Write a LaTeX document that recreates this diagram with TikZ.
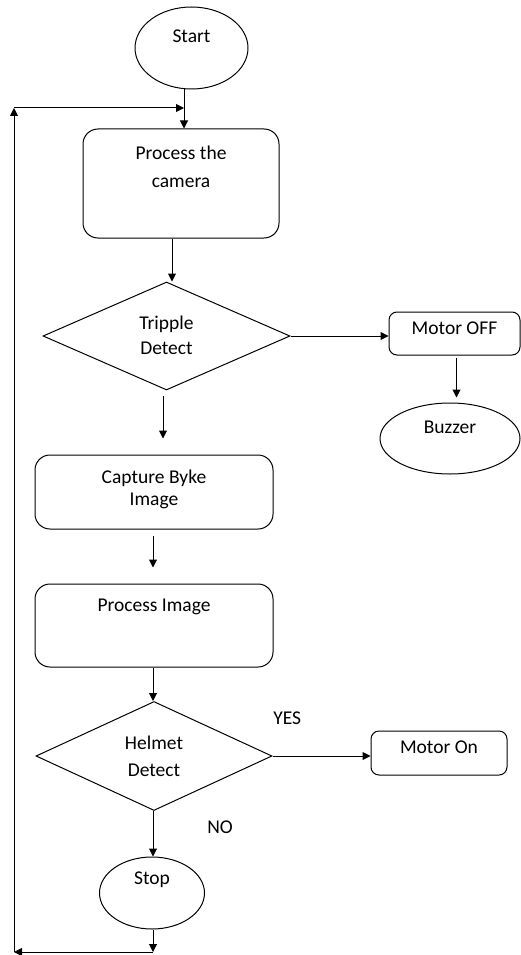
\documentclass[tikz,border=0pt]{standalone}
\usepackage{fontspec}
\setmainfont{Carlito}
\usetikzlibrary{shapes,arrows.meta}

\begin{document}
\begin{tikzpicture}[
	x = 1pt, y = -1pt,
	font = \fontsize{19.5}{25}\selectfont,
	line width = 1pt,
	> = {Triangle[length=8pt, width=8pt]},
	termnode/.style={ellipse, draw, inner sep=0pt},
	procnode/.style={rectangle, draw, rounded corners=15pt, inner sep=0pt},
	smallnode/.style={rectangle, draw, rounded corners=8pt, inner sep=0pt},
	decnode/.style={diamond, draw, inner sep=0pt},
	txt/.style={anchor=north, align=center, inner sep=0pt},
	]
	\useasboundingbox (0,0) rectangle (521,955);
	%Nodes
	\node[termnode, minimum width=113pt, minimum height=82pt, label={[txt, yshift=-23pt]north:Start}]                      (start)    at (191.5,48)    {};
	\node[procnode, minimum width=196pt, minimum height=109pt, label={[txt, yshift=-17pt]north:Process the\\[3pt]camera}]   (camera)   at (181,183.5)   {};
	\node[decnode, minimum width=247pt, minimum height=108pt, label={[txt, yshift=-34pt]north:Tripple\\Detect}]            (tripple)  at (166.5,336)   {};
	\node[smallnode, minimum width=131pt, minimum height=43pt, label={[txt, yshift=-10pt]north:Motor OFF}]                 (motoroff) at (454.5,333.5) {};
	\node[termnode, minimum width=140pt, minimum height=71pt, label={[txt, yshift=-18pt]north:Buzzer}]                     (buzzer)   at (450,438.5)   {};
	\node[procnode, minimum width=238pt, minimum height=74pt, label={[txt, yshift=-15pt]north:Capture Byke\\[-3pt]Image}]  (capture)  at (154,492)     {};
	\node[procnode, minimum width=238pt, minimum height=83pt, label={[txt, yshift=-15pt]north:Process Image}]              (procimg)  at (154,625.5)   {};
	\node[decnode, minimum width=236pt, minimum height=109pt, label={[txt, yshift=-34pt]north:Helmet\\[2pt]Detect}]        (helmet)   at (154,756)     {};
	\node[smallnode, minimum width=136pt, minimum height=44pt, label={[txt, yshift=-10pt]north:Motor On}]                  (motoron)  at (439,753)     {};
	\node[termnode, minimum width=105pt, minimum height=72pt, label={[txt, yshift=-15pt]north:Stop}]                       (stop)     at (152,893)     {};
	\coordinate (loopbot) at (14,952);
	\coordinate (looptop) at (14,108);
	
	%Lines
	\draw[->] ([xshift=-7.5pt]start.south) -- ([xshift=-7.5pt]start.south |- camera.north);
	\draw[->] ([xshift=-9pt]camera.south) -- ([xshift=-9pt]camera.south |- tripple.north);
	\draw[->] (tripple.east) -- (tripple.east -| motoroff.west);
	\draw[->, shorten <=2pt, shorten >=5pt] ([xshift=2pt]motoroff.south) -- ([xshift=2pt]motoroff.south |- buzzer.north);
	\draw[->, shorten <=5pt, shorten >=16pt] ([xshift=-3.5pt]tripple.south) -- ([xshift=-3.5pt]tripple.south |- capture.north);
	\draw[->, shorten <=6pt, shorten >=16pt] ([xshift=-1pt]capture.south) -- ([xshift=-1pt]capture.south |- procimg.north);
	\draw[->] ([xshift=-1pt]procimg.south) -- ([xshift=-1pt]procimg.south |- helmet.north);
	\draw[->] (helmet.east) -- node[pos=0.15, anchor=base, yshift=32pt] (yes) {YES} (helmet.east -| motoron.west);
	\draw[->] ([xshift=-1pt]helmet.south) -- node[pos=0.5, anchor=base, xshift=67pt] (no) {NO} ([xshift=-1pt]helmet.south |- stop.north);
	\draw[->] ([xshift=1pt]stop.south) -- ([xshift=1pt]stop.south |- loopbot);
	\draw[->] ([xshift=1pt]stop.south |- loopbot) -- (loopbot);
	\draw[->] (loopbot) -- (looptop);
	\draw[->] (looptop) -- ([xshift=-7.5pt]start.south |- looptop);
\end{tikzpicture}
\end{document}
